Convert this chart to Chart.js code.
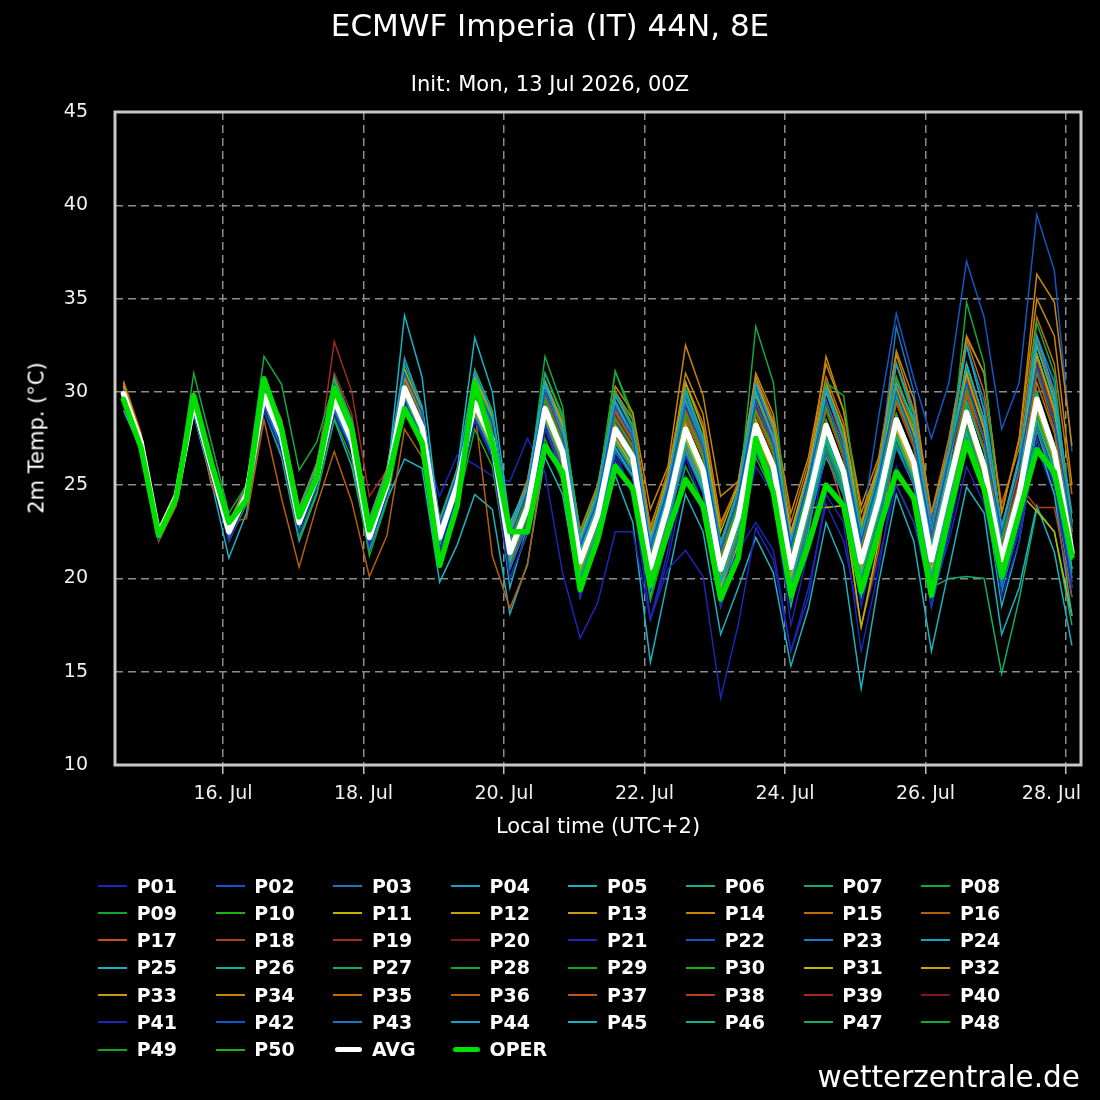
<!DOCTYPE html>
<html><head><meta charset="utf-8">
<script src="https://cdn.jsdelivr.net/npm/chart.js@4.4.1/dist/chart.umd.min.js"></script>
<style>
html,body{margin:0;padding:0;background:#000;}
#wrap{position:relative;width:1100px;height:1100px;background:#000;overflow:hidden;font-family:'DejaVu Sans',sans-serif;color:#fff;}
canvas{position:absolute;left:0;top:0;}
.t{position:absolute;white-space:nowrap;line-height:1;}
.lg{position:absolute;height:2px;width:29px;}
.lt{position:absolute;white-space:nowrap;line-height:1;font-weight:bold;font-size:19px;color:#fff;}
</style></head><body>
<div id="wrap">
<canvas id="c" width="1100" height="1100"></canvas>
<div class="t" style="left:0;width:1100px;text-align:center;top:10px;font-size:31px;">ECMWF Imperia (IT) 44N, 8E</div>
<div class="t" style="left:0;width:1100px;text-align:center;top:74px;font-size:21px;">Init: Mon, 13 Jul 2026, 00Z</div>
<div class="t" style="left:37px;top:438px;font-size:21px;transform:translate(-50%,-50%) rotate(-90deg);">2m Temp. (°C)</div>
<div class="t" style="left:115px;width:966px;text-align:center;top:816px;font-size:21px;">Local time (UTC+2)</div>
<div class="t" style="right:20px;top:1063px;font-size:29.5px;">wetterzentrale.de</div>
<div id="legend"></div>
</div>
<script>
// hours relative to 16 Jul 00:00 local time
const hours = [-34,-28,-22,-16,-10,-4,2,8,14,20,26,32,38,44,50,56,62,68,74,80,86,92,98,104,110,116,122,128,134,140,146,152,158,164,170,176,182,188,194,200,206,212,218,224,230,236,242,248,254,260,266,272,278,284,290];
const tickHours = [0,48,96,144,192,240,288];
const tickLabels = ['16. Jul','18. Jul','20. Jul','22. Jul','24. Jul','26. Jul','28. Jul'];

const p01 = [29.4,27.0,22.1,24.2, 28.9,25.5,22.0,24.2, 29.0,26.8,22.5,25.0, 28.8,26.8,21.8,24.5, 29.5,27.5,21.5,24.5, 28.5,26.5,20.0,22.5, 28.0,25.5,19.0,22.0, 26.5,24.5,17.8,21.0, 25.5,23.5,18.5,21.5, 23.0,21.5,16.1,19.0, 24.5,23.0,16.1,20.5, 26.0,24.0,18.5,22.5, 27.0,25.0,19.0,22.0, 27.5,25.0,19.5];
const p02 = [30.1,27.4,22.5,24.5, 29.7,26.3,22.7,24.8, 30.3,28.1,23.5,25.8, 30.4,28.0,22.8,25.5, 31.0,28.9,22.9,25.6, 30.4,28.3,22.2,24.6, 30.0,27.6,21.7,24.2, 29.2,27.5,21.6,24.8, 29.3,27.0,21.5,24.3, 29.5,27.2,21.7,25.3, 29.5,26.9,22.0,25.4, 30.0,27.5,22.3,26.4, 30.5,27.5,22.4,26.0, 31.3,28.4,22.8];
const p03 = [29.7,27.2,22.3,24.3, 29.0,25.7,22.2,24.2, 29.3,27.0,22.5,24.9, 29.0,26.8,21.6,24.4, 29.5,27.4,21.5,24.3, 28.5,26.5,20.5,22.9, 28.0,25.7,19.8,22.4, 26.8,25.4,19.5,22.8, 26.7,24.6,19.2,22.1, 26.8,24.8,19.3,23.0, 26.8,24.4,19.6,23.0, 27.0,25.0,19.6,23.6, 27.5,24.6,19.6,23.2, 28.0,25.5,20.0];
const p04 = [29.8,27.3,22.4,24.5, 29.6,26.2,22.6,24.7, 30.0,27.9,23.2,25.6, 30.0,27.8,22.6,25.4, 31.8,29.2,22.8,25.6, 31.0,28.8,22.5,25.0, 30.3,28.0,22.0,24.5, 29.8,28.0,22.0,25.2, 30.0,27.5,21.8,24.8, 30.5,28.0,22.0,25.5, 30.2,27.5,22.3,25.8, 31.5,28.8,22.5,27.0, 32.5,29.0,22.8,26.5, 33.0,30.0,23.5];
const p05 = [29.7,27.3,22.4,24.4, 29.5,26.2,22.2,24.6, 30.0,28.0,23.0,25.5, 30.2,28.2,22.5,25.3, 34.1,30.8,22.8,25.8, 32.9,30.0,23.0,25.0, 30.5,28.0,21.5,24.0, 29.5,27.5,21.5,24.5, 29.5,27.0,20.5,23.8, 30.0,27.5,20.5,24.5, 30.0,27.5,21.0,25.0, 30.5,28.5,21.5,26.0, 31.5,28.5,21.5,25.0, 32.5,29.5,21.5];
const p06 = [29.9,27.3,22.4,24.4, 29.2,25.9,22.3,24.4, 29.5,27.3,22.7,25.2, 29.2,27.0,21.9,24.8, 29.8,27.7,21.8,24.6, 28.8,26.8,21.0,23.4, 28.5,26.2,20.2,22.8, 27.3,25.8,20.0,23.4, 27.2,25.0,19.8,22.6, 27.5,25.2,19.8,23.5, 27.5,25.0,20.2,23.6, 27.6,25.4,20.2,24.2, 27.8,25.0,20.0,23.5, 28.5,25.8,20.5];
const p07 = [30.2,27.5,22.6,24.6, 29.9,26.4,22.8,24.9, 30.6,28.4,23.7,26.1, 30.8,28.5,23.2,25.8, 31.5,29.2,23.2,25.8, 31.2,29.0,22.8,25.0, 31.0,28.6,22.4,24.8, 30.0,28.2,22.0,25.2, 30.2,27.6,21.8,24.6, 30.0,27.5,21.6,25.2, 29.5,27.0,21.8,25.0, 29.8,27.3,21.8,25.6, 29.5,26.8,21.5,25.0, 30.0,27.2,21.8];
const p08 = [30.0,27.5,22.5,24.5, 31.0,27.3,23.5,25.0, 31.9,30.4,25.8,27.3, 30.5,28.5,23.0,25.5, 31.0,28.8,22.5,25.2, 30.5,28.5,22.0,24.5, 31.9,29.2,21.5,24.5, 31.1,28.5,21.0,24.5, 30.0,27.5,20.5,24.0, 33.5,30.5,21.0,25.0, 30.5,29.8,22.5,25.5, 31.5,28.5,21.5,25.5, 34.8,31.5,22.0,26.0, 33.7,31.0,22.0];
const p09 = [29.6,27.1,22.2,24.2, 28.9,25.5,22.0,24.0, 29.0,26.7,22.2,24.6, 28.6,26.4,21.2,24.1, 29.0,27.0,21.0,23.9, 28.0,26.0,20.0,22.4, 27.5,25.2,19.2,21.8, 26.2,24.8,18.8,22.2, 26.0,24.0,18.6,21.5, 26.5,24.5,18.8,22.8, 27.0,24.8,19.5,23.0, 27.5,25.2,19.8,24.0, 28.0,25.2,20.0,23.5, 28.8,26.0,20.5];
const p10 = [30.0,27.4,22.5,24.5, 29.5,26.1,22.6,24.6, 29.9,27.7,23.1,25.5, 29.8,27.6,22.4,25.2, 30.4,28.3,22.4,25.2, 29.8,27.8,21.8,24.2, 29.6,27.3,21.4,23.9, 28.6,27.1,21.2,24.5, 28.8,26.6,21.2,24.0, 29.0,26.8,21.4,25.0, 29.2,26.7,21.9,25.2, 29.8,27.5,22.3,26.3, 30.3,27.4,22.4,25.9, 31.2,28.4,23.0];
const p11 = [29.8,27.3,22.5,24.4, 29.3,25.9,22.4,24.5, 29.7,27.5,22.9,25.3, 29.5,27.3,22.0,24.9, 30.0,27.9,22.0,24.8, 29.0,27.0,21.0,23.5, 28.7,26.4,20.5,23.0, 27.5,26.0,20.2,23.5, 27.5,25.3,19.5,21.8, 27.8,25.6,20.0,23.8, 23.8,23.9,17.4,22.0, 28.0,25.7,20.5,24.5, 28.5,25.5,20.5,24.0, 29.0,26.2,21.0];
const p12 = [30.3,27.5,22.6,24.6, 29.8,26.4,22.9,24.9, 30.5,28.2,23.6,26.0, 30.6,28.3,23.0,25.7, 31.2,29.0,23.0,25.7, 30.8,28.7,22.6,24.9, 30.5,28.2,22.2,24.8, 29.8,28.2,22.3,25.4, 30.5,28.0,22.5,25.0, 30.5,28.3,22.5,25.8, 30.5,28.0,22.8,26.0, 30.2,27.8,22.5,26.3, 31.0,28.0,22.5,26.2, 32.0,29.0,23.0];
const p13 = [29.9,27.2,22.3,24.3, 29.4,26.0,22.4,24.4, 29.8,27.6,22.9,25.3, 29.6,27.4,22.1,24.9, 30.1,28.0,22.1,24.9, 29.5,27.5,21.3,23.7, 29.2,26.9,20.8,23.3, 28.2,26.6,20.5,23.8, 28.3,26.0,20.3,23.0, 28.5,26.3,20.3,24.0, 28.0,25.5,20.5,23.8, 28.0,25.5,20.5,24.0, 28.5,25.5,20.5,24.0, 28.5,25.8,20.5];
const p14 = [30.5,27.6,22.5,24.5, 29.8,26.3,22.8,24.8, 30.2,28.3,23.8,26.0, 30.5,28.2,23.0,25.6, 30.8,28.8,23.0,25.5, 30.5,28.6,22.3,25.0, 30.5,28.3,22.0,24.8, 30.3,28.9,23.7,26.0, 32.5,29.8,24.4,25.2, 30.8,28.0,22.3,25.8, 31.9,29.0,23.5,26.0, 32.2,29.6,23.5,27.0, 33.0,31.0,23.5,27.5, 36.3,34.8,27.1];
const p15 = [30.4,27.6,22.7,24.7, 29.9,26.5,23.0,25.0, 30.6,28.5,23.8,26.2, 30.6,28.4,23.2,25.9, 31.0,29.0,23.1,25.9, 30.6,28.8,22.8,25.3, 30.4,28.2,22.6,25.0, 30.0,28.5,22.6,25.8, 30.5,28.3,22.8,25.2, 30.8,28.5,23.0,26.2, 30.8,28.3,23.0,26.3, 31.5,29.0,23.5,27.5, 32.8,30.0,24.0,27.0, 34.0,31.5,24.5];
const p16 = [30.6,27.8,22.0,23.9, 29.5,25.0,23.0,23.2, 28.5,24.3,20.6,23.9, 26.8,24.1,20.1,22.3, 28.0,26.5,21.5,24.0, 29.0,21.2,18.4,20.7, 27.0,25.5,20.5,23.0, 27.5,26.5,21.0,24.0, 28.5,26.5,21.0,23.8, 29.0,27.0,21.5,25.0, 29.5,27.0,21.5,24.5, 29.5,27.5,22.0,25.5, 30.0,27.5,22.0,25.0, 31.0,28.0,22.5];
const p17 = [30.1,27.4,22.4,24.5, 29.6,26.2,22.6,24.6, 30.0,27.8,23.2,25.6, 29.9,27.7,22.5,25.3, 30.6,28.4,22.6,25.3, 30.0,28.0,22.0,24.4, 29.8,27.5,21.6,24.1, 29.0,27.4,21.4,24.8, 29.0,26.8,21.3,24.2, 29.5,27.2,21.5,25.3, 29.5,27.0,22.0,25.4, 30.0,27.6,22.2,26.3, 30.8,28.0,22.3,25.8, 32.0,29.0,22.5];
const p18 = [29.9,27.3,22.4,24.4, 29.3,26.0,22.4,24.5, 29.7,27.5,22.9,25.3, 29.5,27.4,22.2,25.0, 30.2,28.1,22.3,25.0, 29.6,27.6,21.5,24.0, 29.5,27.2,21.2,23.8, 28.5,27.0,21.0,24.4, 28.6,26.4,21.0,23.8, 28.8,26.6,21.0,24.7, 29.0,26.5,21.5,25.0, 29.5,27.0,21.6,25.5, 30.0,27.0,21.5,25.0, 23.8,23.8,19.0];
const p19 = [30.2,27.4,22.6,24.6, 29.6,26.5,22.9,24.9, 30.0,28.0,23.4,25.8, 32.7,30.0,24.4,25.8, 31.0,28.8,23.0,25.6, 30.0,28.0,21.8,24.5, 29.8,27.5,21.5,24.0, 29.0,27.6,21.5,24.8, 29.5,27.0,21.8,24.2, 30.0,27.8,21.8,25.0, 30.0,27.2,22.0,25.0, 30.5,27.8,21.8,26.0, 31.0,28.5,22.0,25.8, 32.0,29.0,23.0];
const p20 = [30.0,27.4,22.5,24.5, 29.5,26.1,22.5,24.6, 29.9,27.7,23.1,25.5, 30.0,27.9,22.5,25.2, 30.6,28.5,22.5,25.2, 29.9,27.9,21.7,24.2, 29.6,27.3,21.3,23.9, 28.7,27.2,21.1,24.5, 28.8,26.6,21.0,24.0, 29.2,27.0,21.3,25.0, 29.3,26.8,21.6,25.0, 29.8,27.4,21.8,25.8, 30.5,27.6,22.0,25.5, 31.5,28.5,22.5];
const p21 = [29.6,27.1,22.3,24.3, 29.1,25.7,22.3,24.3, 29.4,27.2,22.6,25.0, 29.2,27.0,21.9,24.7, 30.0,27.8,21.8,24.5, 28.8,26.5,20.5,23.0, 28.2,25.8,19.8,22.4, 26.8,24.5,17.8,21.5, 26.5,24.0,18.5,21.8, 26.0,24.5,17.5,21.5, 27.0,24.8,18.5,22.5, 27.5,25.0,19.0,23.0, 28.0,25.0,19.5,23.0, 28.5,25.5,19.5];
const p22 = [29.8,27.2,22.5,24.6, 29.0,25.8,22.8,24.8, 29.5,27.5,23.4,25.6, 29.0,27.0,22.6,25.3, 30.5,28.4,23.0,25.5, 29.8,27.9,22.8,25.0, 29.6,27.2,21.8,24.4, 28.4,27.0,21.5,24.5, 28.8,26.6,21.8,24.6, 29.3,27.5,22.5,25.8, 29.5,26.5,22.5,28.7, 34.2,30.7,27.5,30.5, 37.0,34.0,28.0,30.5, 39.5,36.5,26.8];
const p23 = [30.0,27.3,22.4,24.4, 29.5,26.1,22.6,24.6, 30.0,27.8,23.3,25.7, 30.1,27.8,22.6,25.3, 31.2,28.9,22.8,25.5, 30.5,28.5,22.3,24.8, 30.6,28.2,21.9,24.3, 29.5,27.8,21.8,25.0, 29.8,27.3,21.6,24.4, 30.3,27.9,21.8,25.5, 30.5,27.5,22.3,25.7, 33.5,30.0,23.0,27.5, 32.5,29.5,22.5,26.5, 33.0,30.5,23.0];
const p24 = [29.8,27.2,22.3,24.3, 29.2,25.8,22.3,24.4, 29.6,27.4,22.8,25.2, 29.4,27.2,22.0,24.8, 30.0,27.9,21.9,24.8, 29.2,27.2,21.2,23.6, 28.8,26.6,20.6,23.2, 27.8,26.2,20.3,23.6, 27.7,25.5,20.0,23.0, 27.8,25.7,20.0,23.8, 27.9,25.3,20.4,23.8, 28.0,25.6,20.3,24.4, 28.2,25.3,20.2,23.8, 28.8,26.0,20.5];
const p25 = [29.9,27.3,22.4,24.4, 29.4,26.0,22.5,24.5, 29.8,27.5,22.9,25.3, 29.5,27.3,22.1,24.9, 30.8,28.6,21.5,24.6, 29.0,27.0,19.5,22.8, 28.5,26.5,19.5,22.5, 27.0,25.5,19.0,23.0, 26.8,24.8,18.5,22.0, 27.0,25.0,18.5,22.5, 27.5,25.0,19.0,23.0, 27.5,25.0,18.5,22.5, 28.0,25.0,18.5,22.0, 27.5,24.5,18.0];
const p26 = [30.1,27.4,22.5,24.5, 29.6,26.2,22.6,24.7, 30.1,27.9,23.3,25.7, 30.0,27.8,22.5,25.3, 30.8,28.7,22.7,25.4, 30.2,28.2,22.0,24.4, 30.0,27.6,21.6,24.1, 29.2,27.6,21.5,24.8, 29.5,27.2,21.6,24.4, 30.0,27.6,21.8,25.3, 30.0,27.4,22.2,25.6, 30.5,27.8,22.2,26.3, 31.2,28.2,22.4,26.0, 32.0,29.2,22.8];
const p27 = [29.8,27.2,22.3,24.3, 29.3,25.9,22.3,24.3, 29.5,27.3,22.7,25.1, 29.2,27.0,21.8,24.6, 29.6,27.5,21.6,24.5, 28.6,26.6,20.6,23.0, 28.0,25.8,20.0,22.5, 27.0,25.5,19.6,22.9, 26.8,24.6,19.2,22.2, 27.0,24.8,19.2,22.9, 27.2,24.6,19.6,23.0, 27.2,25.0,19.6,23.5, 27.5,24.6,19.3,23.0, 28.0,25.2,19.5];
const p28 = [30.0,27.3,22.4,24.5, 29.5,26.1,22.5,24.6, 29.9,27.6,23.0,25.4, 29.7,27.5,22.3,25.1, 30.3,28.2,22.3,25.1, 29.6,27.5,21.5,23.9, 29.3,27.0,21.1,23.6, 28.3,26.8,20.9,24.2, 28.3,26.1,20.8,23.6, 28.5,26.3,20.8,24.4, 28.5,26.0,21.1,24.5, 28.8,26.5,21.2,25.3, 29.2,26.3,21.2,24.8, 30.0,27.1,21.6];
const p29 = [29.7,27.2,22.3,24.3, 29.2,25.8,22.3,24.3, 29.6,27.3,22.8,25.2, 29.3,27.1,22.0,24.8, 29.9,27.8,21.9,24.7, 29.0,27.0,21.0,23.4, 28.7,26.4,20.4,23.0, 27.6,26.1,20.1,23.5, 27.5,25.3,20.0,22.8, 27.6,25.5,20.0,23.6, 27.6,25.1,20.3,23.6, 27.8,25.5,20.2,24.2, 28.1,25.2,20.0,23.6, 28.6,25.9,20.3];
const p30 = [30.2,27.5,22.6,24.6, 29.8,26.4,22.8,24.8, 30.4,28.2,23.5,25.9, 30.4,28.2,22.8,25.6, 31.0,28.9,22.9,25.7, 30.5,28.5,22.2,24.6, 31.0,28.8,22.4,24.7, 31.1,28.8,22.2,25.4, 30.5,28.0,22.0,24.8, 30.5,28.2,22.2,25.5, 30.3,27.8,22.4,25.8, 30.8,28.2,22.5,26.5, 31.5,28.5,22.6,26.2, 32.5,29.5,23.0];
const p31 = [29.9,27.3,22.4,24.4, 29.4,26.0,22.5,24.5, 29.8,27.6,23.0,25.4, 29.6,27.4,22.2,25.0, 30.2,28.1,22.2,25.0, 29.4,27.4,21.4,23.8, 29.1,26.8,20.9,23.4, 28.0,26.5,20.6,23.9, 28.0,25.8,20.4,23.3, 28.3,26.1,20.5,24.2, 28.4,25.8,20.8,24.3, 28.8,26.4,21.0,25.1, 29.2,26.2,21.0,24.6, 23.6,22.5,18.0];
const p32 = [30.2,27.5,22.6,24.6, 29.7,26.3,22.7,24.8, 30.2,28.0,23.4,25.8, 30.2,28.0,22.7,25.5, 30.8,28.6,22.7,25.5, 30.2,28.1,21.9,24.4, 30.0,27.7,21.6,24.2, 29.2,27.6,21.5,24.9, 29.5,27.2,21.5,24.3, 29.8,27.5,21.6,25.2, 30.0,27.4,22.0,25.5, 30.5,28.0,22.2,26.3, 31.5,28.5,22.5,26.0, 32.5,29.6,23.0];
const p33 = [29.8,27.2,22.4,24.4, 29.3,25.9,22.4,24.4, 29.6,27.4,22.8,25.2, 29.4,27.2,22.0,24.8, 29.9,27.8,21.9,24.7, 29.1,27.1,21.1,23.5, 28.7,26.4,20.5,23.0, 27.6,26.1,20.2,23.5, 27.5,25.3,20.0,22.8, 27.7,25.5,20.0,23.7, 27.6,25.1,20.3,23.6, 27.8,25.5,20.3,24.3, 28.0,25.1,20.2,23.6, 28.5,25.8,20.5];
const p34 = [30.3,27.5,22.6,24.6, 29.8,26.4,22.8,24.9, 30.4,28.3,23.6,26.0, 30.5,28.3,23.0,25.7, 31.2,29.0,23.0,25.8, 30.8,28.8,22.6,25.2, 30.6,28.4,22.5,25.0, 30.0,28.5,22.8,25.5, 31.0,28.8,23.0,25.0, 31.0,28.8,23.5,26.5, 31.5,29.0,23.9,26.5, 32.0,29.0,23.0,26.8, 32.9,31.0,23.5,27.5, 35.0,33.0,25.0];
const p35 = [30.0,27.4,22.5,24.5, 29.5,26.1,22.6,24.6, 29.9,27.7,23.1,25.5, 29.8,27.6,22.4,25.2, 30.5,28.4,22.5,25.2, 29.8,27.8,21.7,24.1, 29.5,27.2,21.3,23.8, 28.6,27.0,21.1,24.4, 28.6,26.4,21.0,23.8, 28.8,26.6,21.0,24.7, 29.0,26.4,21.4,24.8, 29.4,27.0,21.6,25.6, 29.8,27.0,21.7,25.2, 30.5,27.8,22.0];
const p36 = [29.8,27.2,22.3,24.3, 29.2,25.8,22.3,24.3, 29.5,27.2,22.6,25.0, 29.2,27.0,21.8,24.6, 29.7,27.6,21.7,24.5, 28.8,26.8,20.8,23.2, 28.3,26.0,20.2,22.7, 27.3,25.8,19.8,23.2, 27.0,24.8,19.3,22.5, 27.2,25.0,19.3,23.2, 26.8,23.8,17.4,21.5, 27.5,25.2,19.5,23.8, 27.8,24.8,19.5,23.2, 28.0,25.0,19.5];
const p37 = [30.1,27.4,22.5,24.5, 29.6,26.2,22.7,24.7, 30.2,28.0,23.3,25.7, 30.2,28.0,22.6,25.4, 30.8,28.6,22.6,25.4, 30.2,28.2,22.0,24.5, 30.0,27.8,21.7,24.2, 29.3,27.8,21.7,25.0, 29.6,27.3,21.6,24.5, 30.0,27.7,21.8,25.5, 30.2,27.6,22.2,25.7, 30.8,28.3,22.4,26.5, 32.5,29.0,22.8,26.3, 32.8,29.8,23.0];
const p38 = [29.9,27.3,22.4,24.4, 29.4,26.0,22.5,24.5, 29.8,27.6,23.0,25.4, 29.8,27.6,22.4,25.1, 30.4,28.3,22.4,25.1, 29.8,27.8,21.6,24.0, 29.6,27.2,21.2,23.8, 28.6,27.0,21.0,24.4, 28.7,26.5,21.0,23.9, 29.0,26.8,21.0,24.8, 29.2,26.6,21.4,24.9, 29.6,27.2,21.6,25.8, 31.0,28.0,21.8,25.5, 31.5,28.8,22.2];
const p39 = [30.0,27.3,22.5,24.5, 29.4,26.0,22.5,24.6, 29.9,27.7,23.1,25.5, 31.0,28.8,23.0,25.4, 30.6,28.5,22.6,25.2, 29.8,27.8,21.6,24.1, 29.6,27.3,21.3,23.9, 28.8,27.2,21.2,24.5, 29.0,26.8,21.2,24.1, 29.5,27.2,21.3,25.0, 29.5,26.9,21.6,25.1, 30.0,27.5,21.8,26.0, 30.8,28.0,22.0,25.8, 32.0,29.0,22.5];
const p40 = [29.8,27.2,22.3,24.3, 29.3,25.9,22.4,24.4, 29.7,27.5,22.9,25.3, 29.5,27.3,22.1,24.9, 30.0,28.0,22.1,24.9, 29.3,27.3,21.3,23.7, 29.0,26.7,20.8,23.3, 27.9,26.4,20.5,23.8, 27.9,25.7,20.3,23.2, 28.1,25.9,20.4,24.1, 28.1,25.6,20.7,24.1, 28.4,26.1,20.8,24.9, 28.8,25.9,20.8,24.4, 29.4,26.6,21.2];
const p41 = [29.5,27.1,22.2,24.2, 29.0,25.6,22.0,24.0, 29.0,27.0,22.6,25.0, 29.0,27.0,22.0,24.6, 29.2,27.6,24.4,26.6, 26.1,25.5,25.2,27.5, 25.7,20.3,16.8,18.7, 22.5,22.5,17.8,20.5, 21.5,20.1,13.6,17.5, 22.7,21.0,16.1,19.5, 24.0,22.0,17.5,21.0, 25.0,23.0,19.0,22.0, 26.0,24.0,19.5,22.5, 27.0,24.5,20.0];
const p42 = [29.7,27.2,22.3,24.3, 29.1,25.7,22.2,24.3, 29.4,27.1,22.6,25.0, 29.1,26.9,21.8,24.6, 29.6,27.5,21.6,24.4, 28.7,26.7,20.7,23.0, 28.2,25.9,20.0,22.6, 27.2,25.7,19.6,23.0, 27.0,24.8,19.3,22.4, 27.2,25.0,19.3,23.0, 27.0,24.6,19.6,23.0, 28.0,25.5,20.0,24.0, 29.5,27.0,20.5,24.5, 33.0,30.5,21.5];
const p43 = [30.0,27.4,22.5,24.5, 29.6,26.2,22.6,24.7, 30.0,27.8,23.2,25.6, 29.9,27.7,22.4,25.2, 30.6,28.5,22.5,25.2, 29.9,27.9,21.7,24.2, 29.7,27.3,21.3,23.9, 28.7,27.1,21.1,24.5, 28.8,26.6,21.0,24.0, 29.0,26.8,21.1,24.9, 29.2,26.7,21.5,25.1, 29.8,27.4,21.8,26.0, 30.8,28.0,22.0,25.7, 31.5,28.8,22.3];
const p44 = [29.9,27.3,22.4,24.4, 29.4,26.0,22.4,24.5, 29.8,27.5,22.9,25.3, 29.5,27.3,22.1,24.9, 30.1,28.0,22.0,24.8, 29.2,27.2,21.1,23.5, 28.8,26.5,20.4,23.0, 27.6,26.0,20.0,23.4, 27.4,25.1,19.6,22.6, 27.5,25.3,19.7,23.4, 27.8,25.3,20.2,23.6, 27.5,25.0,19.5,23.5, 27.8,24.8,19.3,23.0, 28.0,25.0,19.0];
const p45 = [29.0,26.9,22.0,24.0, 28.8,25.2,21.1,23.5, 29.0,26.5,22.0,24.5, 28.5,26.0,21.5,24.2, 26.4,25.9,19.8,21.8, 24.5,23.7,18.1,20.8, 26.5,24.5,19.0,22.0, 25.5,23.0,15.5,20.0, 24.5,22.5,17.0,19.5, 22.2,20.3,15.3,18.4, 23.0,20.7,14.1,19.8, 24.5,22.0,16.1,20.5, 24.9,23.5,17.0,19.5, 23.9,21.4,16.4];
const p46 = [30.1,27.4,22.5,24.5, 29.6,26.2,22.7,24.7, 30.1,27.9,23.3,25.6, 30.0,27.8,22.5,25.3, 30.7,28.6,22.6,25.3, 30.0,28.0,21.8,24.3, 29.8,27.4,21.4,24.0, 28.9,27.3,21.3,24.6, 29.0,26.8,21.2,24.1, 29.3,27.0,21.3,25.0, 29.5,26.9,21.8,25.3, 30.0,27.5,22.0,26.2, 31.0,28.0,22.2,25.8, 31.8,29.0,22.6];
const p47 = [29.8,27.2,22.3,24.3, 29.3,26.0,22.3,24.3, 29.5,27.5,22.8,25.2, 29.3,27.2,22.0,24.8, 29.8,27.8,22.0,24.8, 28.8,27.0,21.0,23.5, 28.5,26.5,20.5,23.0, 27.5,26.0,20.0,23.2, 27.0,25.0,19.5,22.5, 26.8,25.0,19.5,23.0, 26.5,24.5,19.5,22.8, 25.0,23.0,19.5,20.0, 20.1,20.0,14.9,18.9, 23.7,22.5,17.5];
const p48 = [29.8,27.2,22.3,24.3, 29.2,25.8,22.3,24.3, 29.6,27.3,22.8,25.1, 29.3,27.1,22.0,24.7, 29.8,27.7,21.8,24.6, 28.9,26.9,20.9,23.3, 28.5,26.3,20.3,22.9, 27.5,26.0,20.0,23.4, 27.3,25.1,19.8,22.7, 27.5,25.3,19.8,23.5, 27.5,25.0,20.1,23.5, 27.6,25.3,20.0,24.0, 27.8,24.9,19.8,23.4, 28.3,25.5,20.0];
const p49 = [30.0,27.3,22.5,24.5, 29.5,26.1,22.6,24.6, 29.9,27.7,23.1,25.5, 29.8,27.5,22.3,25.1, 30.3,28.2,22.3,25.1, 29.6,27.6,21.5,24.0, 29.3,27.0,21.0,23.6, 28.3,26.8,20.8,24.2, 28.3,26.1,20.7,23.6, 28.5,26.3,20.8,24.5, 28.5,26.0,21.1,24.5, 28.8,26.5,21.2,25.3, 29.2,26.3,21.2,24.8, 30.0,27.1,21.6];
const p50 = [29.7,27.2,22.3,24.3, 29.2,25.8,22.3,24.3, 29.5,27.3,22.7,25.1, 29.3,27.0,21.9,24.7, 29.8,27.6,21.8,24.6, 28.8,26.8,20.8,23.2, 28.3,26.0,20.2,22.8, 27.3,25.8,19.8,23.2, 27.1,24.9,19.5,22.5, 27.3,25.1,19.5,23.3, 27.3,24.8,19.8,23.3, 27.5,25.2,19.8,24.0, 27.8,24.8,19.6,23.3, 28.3,25.4,19.8];
const avg = [29.9,27.3,22.4,24.4, 29.4,26.0,22.5,24.5, 29.8,27.6,23.0,25.4, 29.6,27.4,22.2,25.0, 30.2,28.1,22.2,25.0, 29.4,27.4,21.4,23.8, 29.1,26.8,20.9,23.4, 28.0,26.5,20.6,23.9, 28.0,25.8,20.5,23.3, 28.2,26.0,20.6,24.2, 28.2,25.7,20.9,24.2, 28.5,26.2,21.0,25.0, 28.9,26.0,21.0,24.5, 29.6,26.8,21.4];
const oper = [29.6,27.0,22.3,24.3, 29.8,26.2,23.0,24.2, 30.7,28.0,23.3,25.4, 30.2,28.0,22.6,25.2, 29.1,27.3,20.7,23.9, 30.5,27.3,22.5,22.5, 27.1,25.7,19.4,22.1, 26.0,24.8,19.6,22.5, 25.3,23.9,18.9,21.1, 27.5,24.6,19.1,21.8, 25.0,23.9,19.3,22.5, 25.7,24.3,19.1,23.4, 27.3,24.8,20.1,23.5, 26.9,25.7,21.2];

const members = [p01,p02,p03,p04,p05,p06,p07,p08,p09,p10,p11,p12,p13,p14,p15,p16,p17,p18,p19,p20,p21,p22,p23,p24,p25,p26,p27,p28,p29,p30,p31,p32,p33,p34,p35,p36,p37,p38,p39,p40,p41,p42,p43,p44,p45,p46,p47,p48,p49,p50];
const palette = ['#1c26b8','#1456c6','#1878c4','#18a0c8','#18b2c0','#14b092','#12ae68','#12a83c','#14a822','#20b012','#c0b600','#c8a400','#c89a10','#c88608','#c06e08','#b45e10','#c05414','#b43e1c','#a02c1c','#841818'];
const AVG_COLOR = '#ffffff';
const OPER_COLOR = '#00e000';

function pts(arr){ return hours.map((h,i)=>({x:h,y:arr[i]})); }
const names = members.map((_,i)=>'P'+String(i+1).padStart(2,'0'));

const datasets = [
  {label:'OPER', data:pts(oper), borderColor:OPER_COLOR, borderWidth:5.5, borderJoinStyle:'round', borderCapStyle:'round'},
  {label:'AVG', data:pts(avg), borderColor:AVG_COLOR, borderWidth:5.5, borderJoinStyle:'round', borderCapStyle:'round'}
];
members.forEach((m,i)=>datasets.push({label:names[i], data:pts(m), borderColor:palette[i%20], borderWidth:1.5}));

const framePlugin = {
  id:'frame',
  afterDraw(chart){
    const {ctx, chartArea:a} = chart;
    ctx.save();
    ctx.strokeStyle = '#c8c8c8'; ctx.lineWidth = 3;
    ctx.strokeRect(a.left, a.top, a.right-a.left, a.bottom-a.top);
    // x tick labels
    const sx = chart.scales.x;
    ctx.font = '19px "DejaVu Sans"';
    ctx.fillStyle = '#f0f0f0';
    ctx.textBaseline = 'alphabetic';
    tickHours.forEach((v,k)=>{
      const x = sx.getPixelForValue(v);
      const w = ctx.measureText(tickLabels[k]).width;
      if (x + w/2 > a.right) { ctx.textAlign='right'; ctx.fillText(tickLabels[k], a.right, 799); }
      else { ctx.textAlign='center'; ctx.fillText(tickLabels[k], x, 799); }
    });
    ctx.restore();
  }
};

Chart.defaults.font.family = 'DejaVu Sans';
new Chart(document.getElementById('c'), {
  type:'line',
  data:{datasets},
  options:{
    responsive:false, animation:false, devicePixelRatio:1,
    layout:{padding:{top:112, right:19, bottom:0, left:0}},
    plugins:{legend:{display:false}, tooltip:{enabled:false}, title:{display:false}},
    elements:{point:{radius:0}, line:{tension:0, fill:false}},
    scales:{
      x:{type:'linear', min:-36.9, max:293.1,
        afterFit(s){ s.height = 1100-765; s.paddingLeft=0; s.paddingRight=0; },
        afterBuildTicks(s){ s.ticks = tickHours.map(v=>({value:v})); },
        ticks:{display:false},
        grid:{color:'#8c8c8c', lineWidth:1.5, drawTicks:true, tickLength:9, tickColor:'#b4c0d4', tickWidth:1.5, tickBorderDash:[]},
        border:{display:false, dash:[8,5]}
      },
      y:{min:10, max:45,
        afterFit(s){ s.width = 115; s.paddingTop=0; s.paddingBottom=0; },
        ticks:{stepSize:5, color:'#f0f0f0', font:{family:'DejaVu Sans', size:19}, padding:27},
        grid:{color:'#8c8c8c', lineWidth:1.5, drawTicks:false},
        border:{display:false, dash:[8,5]}
      }
    }
  },
  plugins:[framePlugin]
});

// legend
const lg = document.getElementById('legend');
const items = names.map((n,i)=>({name:n, color:palette[i%20], w:2})).concat([{name:'AVG',color:AVG_COLOR,w:5},{name:'OPER',color:OPER_COLOR,w:5}]);
items.forEach((it,i)=>{
  const col = i%8, row = Math.floor(i/8);
  const y = 885.7 + row*27.3;
  const x0 = 98 + col*117.6;
  const line = document.createElement('div');
  line.className='lg';
  line.style.left = (x0 + (it.w>2?2:0))+'px';
  line.style.top = (y - it.w/2)+'px';
  line.style.height = it.w+'px';
  line.style.width = (it.w>2?27:29)+'px';
  line.style.background = it.color;
  if (it.w>2) line.style.borderRadius = '3px';
  lg.appendChild(line);
  const t = document.createElement('div');
  t.className='lt';
  t.style.left = (x0 + 38.7)+'px';
  t.style.top = (y - 9.2)+'px';
  t.textContent = it.name;
  lg.appendChild(t);
});
</script>
</body></html>
